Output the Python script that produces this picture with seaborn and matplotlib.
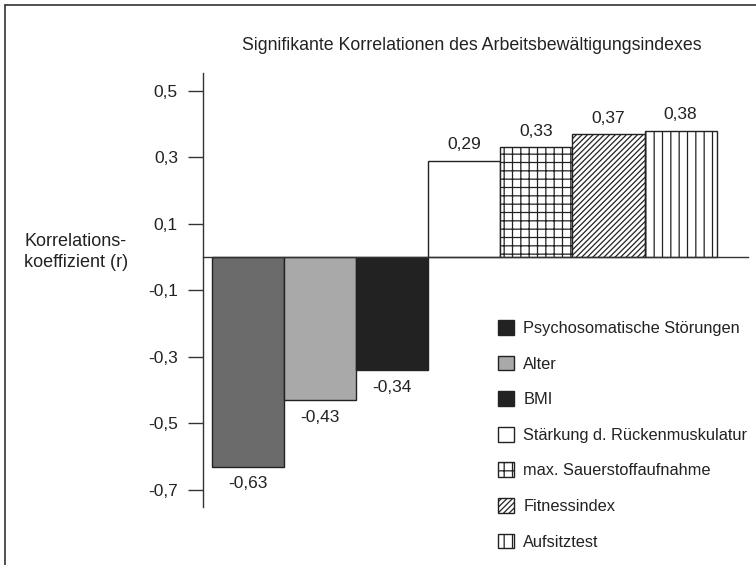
import pandas as pd
import matplotlib.pyplot as plt
from matplotlib.patches import Patch
from matplotlib.lines import Line2D
import seaborn as sns

# data
categories = ["Psychosomatische Störungen", "Alter", "BMI",
              "Stärkung d. Rückenmuskulatur", "max. Sauerstoffaufnahme",
              "Fitnessindex", "Aufsitztest"]
values = [-0.63, -0.43, -0.34, 0.29, 0.33, 0.37, 0.38]
ytick_values = [0.5, 0.3, 0.1, -0.1, -0.3, -0.5, -0.7]
ytick_labels = ["0,5", "0,3", "0,1", "-0,1", "-0,3", "-0,5", "-0,7"]
title = "Signifikante Korrelationen des Arbeitsbewältigungsindexes"
ylabel = "Korrelations-\nkoeffizient (r)"

# styles
bar_colors = ["#6b6b6b", "#a9a9a9", "#222222", "white", "white", "white", "white"]
legend_colors = ["#222222", "#a9a9a9", "#222222", "white", "white", "white", "white"]
hatches = ["", "", "", "", "++", "//////", "||"]

sns.set_style("white")
plt.rcParams['font.family'] = ['Liberation Sans', 'DejaVu Sans']
plt.rcParams['hatch.linewidth'] = 0.9
plt.rcParams['text.color'] = '#222222'

df = pd.DataFrame({"Kategorie": categories, "r": values})

fig = plt.figure(figsize=(7.56, 5.65), dpi=100)
ax = fig.add_axes([0.2685, 0.1027, 0.7209, 0.7681])
sns.barplot(data=df, x="Kategorie", y="r", hue="Kategorie", palette=bar_colors,
            width=1.0, saturation=1, legend=False, ax=ax)

for bar, h in zip(ax.patches, hatches):
    bar.set_hatch(h)
    bar.set_edgecolor('#222222')
    bar.set_linewidth(1.0)

# value labels
for i, v in enumerate(values):
    txt = f"{v:.2f}".replace('.', ',')
    if v >= 0:
        ax.annotate(txt, xy=(i, v), xytext=(0, 6), textcoords='offset points',
                    ha='center', va='bottom', fontsize=12.5)
    else:
        ax.annotate(txt, xy=(i, v), xytext=(0, -7), textcoords='offset points',
                    ha='center', va='top', fontsize=12.5)

ax.set_xlim(-0.625, 6.934)
ax.set_ylim(-0.751, 0.553)
ax.set_xticks([])
ax.set_xlabel('')
ax.set_ylabel('')
ax.set_yticks(ytick_values, ytick_labels)
ax.tick_params(axis='y', direction='out', length=11, width=1, pad=7,
               labelsize=12.5, color='#333333', labelcolor='#222222', left=True)
ax.spines['top'].set_visible(False)
ax.spines['right'].set_visible(False)
ax.spines['bottom'].set_position(('data', 0))
for s in ['left', 'bottom']:
    ax.spines[s].set_color('#333333')
    ax.spines[s].set_linewidth(1.0)

fig.text(0.624, 0.92, title, ha='center', va='center', fontsize=12.8)
fig.text(0.032, 0.554, ylabel, ha='left', va='center', fontsize=13, linespacing=1.3)

handles = [Patch(facecolor=c, edgecolor='#222222', hatch=h, linewidth=1.0)
           for c, h in zip(legend_colors, hatches)]
fig.legend(handles, categories, loc='upper left', bbox_to_anchor=(498 / 756, 1 - 320 / 565),
           frameon=False, handlelength=1.0, handleheight=1.0, handletextpad=0.55,
           labelspacing=1.2, fontsize=11.8, borderaxespad=0, borderpad=0)

# frame around the figure (left and top edge visible)
fig.add_artist(Line2D([5 / 756, 5 / 756], [0, 1 - 5 / 565], transform=fig.transFigure,
                      color='#333333', lw=1.2))
fig.add_artist(Line2D([5 / 756, 1], [1 - 5 / 565, 1 - 5 / 565], transform=fig.transFigure,
                      color='#333333', lw=1.2))

fig.savefig('out.png', dpi=100)
